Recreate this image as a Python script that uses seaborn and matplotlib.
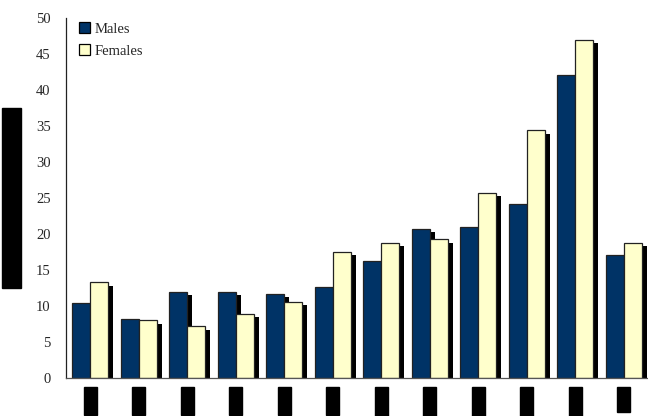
import numpy as np
import pandas as pd
import seaborn as sns
import matplotlib.pyplot as plt
import matplotlib.patheffects as pe


# data (x labels are blacked out in the reference, so age groups are a guess)
groups = ["10-14", "15-19", "20-24", "25-29", "30-34", "35-39",
          "40-44", "45-49", "50-54", "55-59", "60-64", "Total"]
males = [10.4, 8.2, 12.0, 12.0, 11.7, 12.7, 16.2, 20.7, 21.0, 24.2, 42.1, 17.1]
females = [13.3, 8.0, 7.2, 8.9, 10.6, 17.5, 18.8, 19.3, 25.7, 34.4, 47.0, 18.8]
y_ticks = [0, 5, 10, 15, 20, 25, 30, 35, 40, 45, 50]
y_title = "Rate per 100,000 population"

df = pd.DataFrame({
    "group": groups * 2,
    "value": males + females,
    "sex": ["Males"] * len(groups) + ["Females"] * len(groups),
})

sns.set_style("white")
plt.rcParams["font.family"] = ["Liberation Serif", "DejaVu Serif"]

fig = plt.figure(figsize=(6.48, 4.16), dpi=100)
ax = fig.add_axes([66 / 648, 38 / 416, 1 - 66 / 648, 360 / 416])

sns.barplot(data=df, x="group", y="value", hue="sex", order=groups,
            palette=["#003366", "#FFFFCC"], width=0.74, edgecolor="#222222",
            linewidth=0.9, saturation=1, ax=ax)

# drop shadow behind each bar
for bar in ax.patches:
    bar.set_path_effects([pe.SimplePatchShadow(offset=(3.6, -2.5), shadow_rgbFace="black", alpha=1),
                          pe.Normal()])

ax.set_xlim(-0.5, 11.5)
ax.set_ylim(0, 50)
ax.set_yticks(y_ticks)
ax.tick_params(axis="y", length=0, pad=11, labelsize=10.5)
ax.tick_params(axis="x", length=0, pad=8)

for lab in ax.get_xticklabels():
    lab.set_rotation(90)
    lab.set_fontsize(7.5)
    lab.set_color("black")
    lab.set_verticalalignment("top")
    lab.set_bbox(dict(boxstyle="square,pad=0.2", fc="black", ec="black"))

ax.set_xlabel("")
ax.set_ylabel(y_title, fontsize=11, color="black",
              bbox=dict(boxstyle="square,pad=0.2", fc="black", ec="black"))
ax.yaxis.set_label_coords(-0.083, 0.5)

for side in ["top", "right"]:
    ax.spines[side].set_visible(False)
ax.spines["left"].set_color("#222222")
ax.spines["bottom"].set_color("#555555")
ax.spines["left"].set_linewidth(0.9)
ax.spines["bottom"].set_linewidth(0.9)

leg = ax.legend(loc="upper left", bbox_to_anchor=(0.0, 1.025), frameon=False, fontsize=10.5,
                handlelength=0.75, handleheight=0.75, handletextpad=0.3, labelspacing=0.6)
for h in leg.legend_handles:
    h.set_path_effects([])
    h.set_edgecolor("black")

fig.savefig("out.png", dpi=100)
